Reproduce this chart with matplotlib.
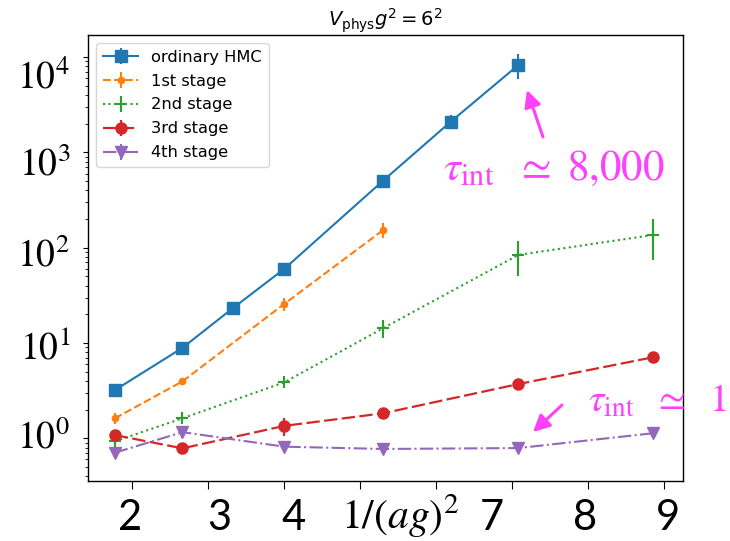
import matplotlib
matplotlib.use("Agg")
import matplotlib.pyplot as plt

# 1/(ag)^2 values of the lattices
x_hmc = [1.77, 2.66, 3.32, 4.0, 5.30, 6.19, 7.08]
x_s1 = [1.77, 2.66, 4.0, 5.30]
x_rest = [1.77, 2.66, 4.0, 5.30, 7.08, 8.85]

# integrated autocorrelation times and their errors
tau_hmc = [3.2, 8.9, 23.1, 60.0, 505.0, 2100.0, 8260.0]
err_hmc = [0.15, 0.4, 1.2, 5.0, 40.0, 350.0, 2400.0]
tau_s1 = [1.62, 3.96, 25.7, 153.0]
err_s1 = [0.22, 0.15, 4.0, 27.0]
tau_s2 = [0.93, 1.62, 3.87, 14.3, 84.0, 136.0]
err_s2 = [0.08, 0.15, 0.3, 3.0, 33.0, 62.0]
tau_s3 = [1.08, 0.785, 1.35, 1.83, 3.71, 7.08]
err_s3 = [0.15, 0.05, 0.3, 0.2, 0.15, 0.3]
tau_s4 = [0.706, 1.16, 0.817, 0.773, 0.79, 1.13]
err_s4 = [0.05, 0.15, 0.04, 0.03, 0.03, 0.05]

series_labels = ["ordinary HMC", "1st stage", "2nd stage", "3rd stage", "4th stage"]
xtick_vals = [2, 3, 4, 5, 6, 7, 8, 9]
xlabel_texts = ["2", "3", "4", r"$1/(ag)^2$", "7", "8", "9"]
ylabel_texts = [r"$10^0$", r"$10^1$", r"$10^2$", r"$10^3$", r"$10^4$"]

W, H = 730, 541
fig = plt.figure(figsize=(W / 100, H / 100), dpi=100)
ax = fig.add_axes([88 / W, 1 - 481 / H, (683 - 88) / W, (481 - 35) / H])

ax.errorbar(x_hmc, tau_hmc, yerr=err_hmc, color="#1f77b4", marker="s", ms=8,
            ls="-", lw=1.5, label=series_labels[0])
ax.errorbar(x_s1, tau_s1, yerr=err_s1, color="#ff7f0e", marker="o", ms=4.5,
            ls="--", lw=1.5, label=series_labels[1])
ax.errorbar(x_rest, tau_s2, yerr=err_s2, color="#2ca02c", marker="+", ms=9,
            mew=1.5, ls=":", lw=1.5, label=series_labels[2])
ax.errorbar(x_rest, tau_s3, yerr=err_s3, color="#d62728", marker="o", ms=8,
            ls=(0, (6, 2)), lw=1.6, label=series_labels[3])
ax.errorbar(x_rest, tau_s4, yerr=err_s4, color="#9467bd", marker="v", ms=8,
            ls="-.", lw=1.5, label=series_labels[4])

ax.set_yscale("log")
ax.set_xlim(1.417, 9.246)
ax.set_ylim(10 ** -0.448, 10 ** 4.232)
ax.set_xticks(xtick_vals)
ax.set_xticklabels([])
ax.tick_params(axis="x", length=6)
ax.set_yticklabels([], minor=False)
ax.set_yticklabels([], minor=True)
for sp in ax.spines.values():
    sp.set_linewidth(1.0)

ax.set_title(r"$V_{\rm phys}g^2 = 6^2$", fontsize=14, pad=3)
ax.legend(loc="upper left", fontsize=11.7, handlelength=2.2, labelspacing=0.55)

# large axis labels
xlab_px = [130, 219, 294, 400, 492, 585, 668]
for px, t in zip(xlab_px, xlabel_texts):
    if t.startswith("$"):
        fig.text(px / W, 1 - 516 / H, t, ha="center", va="center",
                 fontsize=30, math_fontfamily="stix")
    else:
        fig.text(px / W, 1 - 518 / H, t, ha="center", va="center",
                 fontsize=30, family="Lato")

ylab_py = [438, 349, 256, 165, 78]
for py, t in zip(ylab_py, ylabel_texts):
    fig.text(70 / W, 1 - py / H, t, ha="right", va="center",
             fontsize=27, math_fontfamily="stix")

magenta = "#ff40ff"
fig.text(443 / W, 1 - 180 / H, r"$\tau_{\rm int}\ \ \simeq\ 8{,}000$", ha="left",
         va="baseline", fontsize=31, color=magenta, math_fontfamily="stix")
fig.text(588 / W, 1 - 412 / H, r"$\tau_{\rm int}\ \ \simeq\ \ 1$", ha="left",
         va="baseline", fontsize=28, color=magenta, math_fontfamily="stix")

arrow_kw = dict(arrowstyle="-|>", color=magenta, lw=2.2, mutation_scale=25,
                shrinkA=0, shrinkB=0)
ax.annotate("", xy=(527, H - 90), xytext=(543, H - 137),
            xycoords="figure pixels", textcoords="figure pixels",
            arrowprops=arrow_kw)
ax.annotate("", xy=(533, H - 432), xytext=(562, H - 405),
            xycoords="figure pixels", textcoords="figure pixels",
            arrowprops=arrow_kw)

fig.savefig("out.png", dpi=100)
